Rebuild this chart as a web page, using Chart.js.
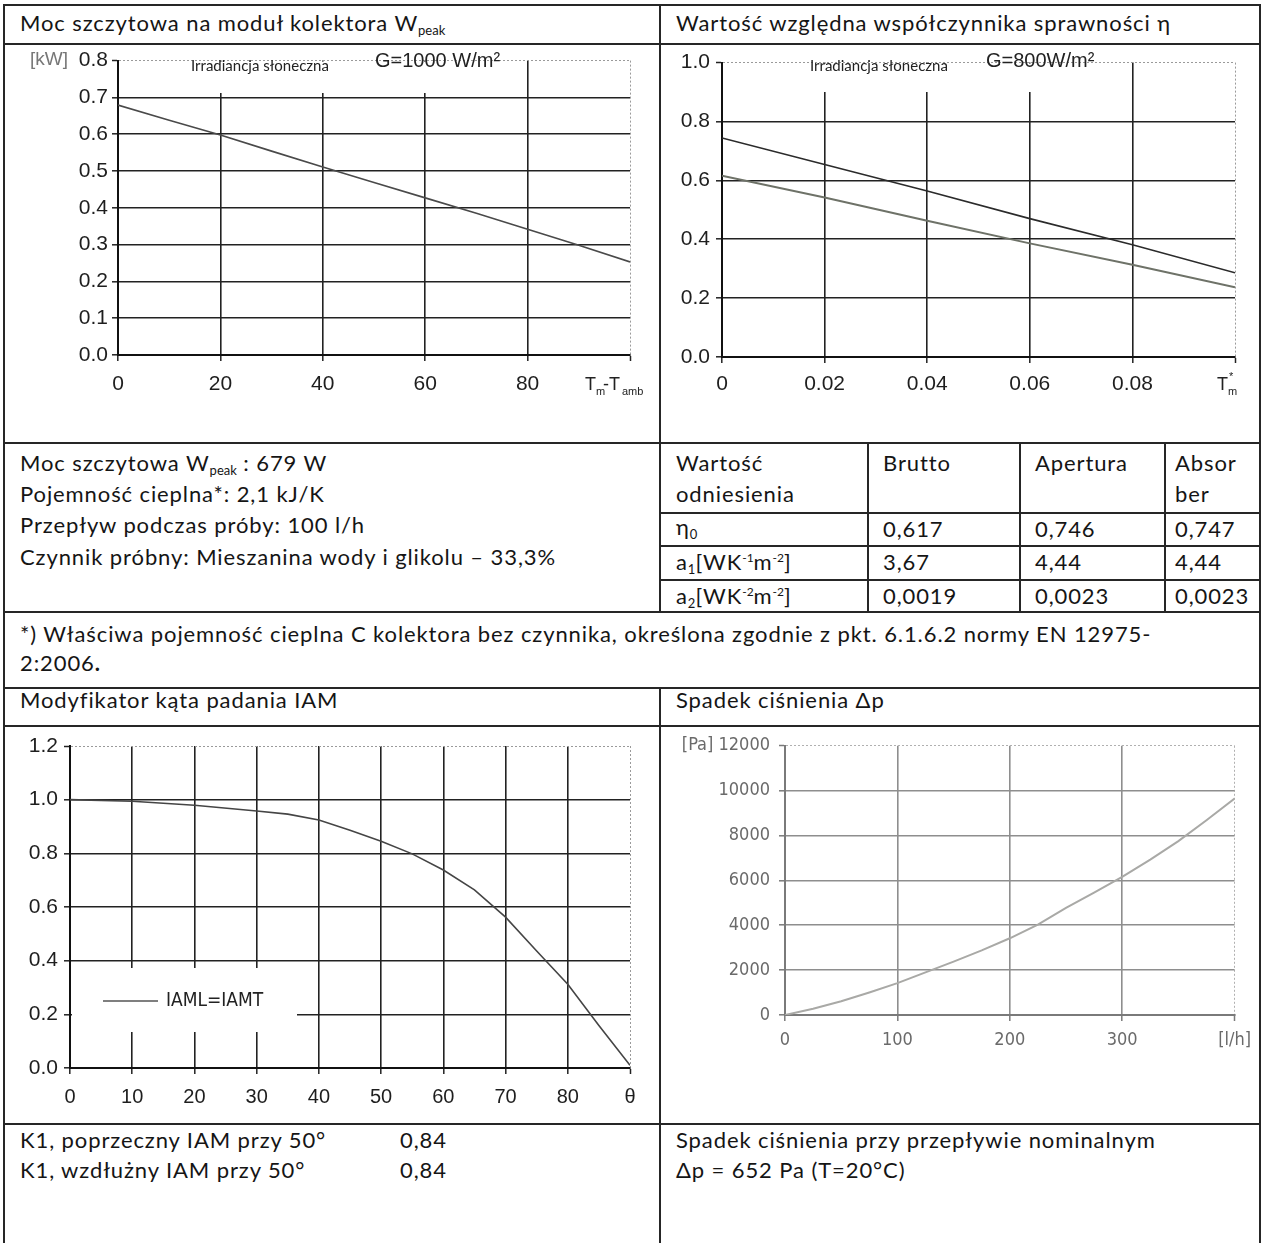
<!DOCTYPE html>
<html>
<head>
<meta charset="utf-8">
<script src="https://cdn.jsdelivr.net/npm/chart.js@4.4.0/dist/chart.umd.min.js"></script>
<style>
body { margin: 0; background: #fff; width: 1263px; height: 1243px; overflow: hidden; position: relative;
       font-family: Lato, "Open Sans", sans-serif; color: #151515; }
.l { position: absolute; background: #262626; }
.t { position: absolute; font-size: 22px; letter-spacing: 0.9px; white-space: nowrap; line-height: 22px; }
.t sub { font-size: 13px; vertical-align: -4px; line-height: 0; letter-spacing: 0; }
.t sup { font-size: 12px; vertical-align: 8px; line-height: 0; letter-spacing: 0; }
canvas { position: absolute; }
</style>
</head>
<body>

<!-- ramki tabeli -->
<div class="l" style="left:3px;top:4px;width:2px;height:1239px"></div>
<div class="l" style="left:1259px;top:4px;width:2px;height:1239px"></div>
<div class="l" style="left:3px;top:4px;width:1258px;height:2px"></div>
<div class="l" style="left:3px;top:43px;width:1258px;height:2px"></div>
<div class="l" style="left:3px;top:442px;width:1258px;height:2px"></div>
<div class="l" style="left:3px;top:611px;width:1258px;height:2px"></div>
<div class="l" style="left:3px;top:687px;width:1258px;height:2px"></div>
<div class="l" style="left:3px;top:725px;width:1258px;height:2px"></div>
<div class="l" style="left:3px;top:1123px;width:1258px;height:2px"></div>
<div class="l" style="left:659px;top:4px;width:2px;height:608px"></div>
<div class="l" style="left:659px;top:688px;width:2px;height:555px"></div>
<div class="l" style="left:661px;top:512px;width:600px;height:2px"></div>
<div class="l" style="left:661px;top:545px;width:600px;height:2px"></div>
<div class="l" style="left:661px;top:579px;width:600px;height:2px"></div>
<div class="l" style="left:867px;top:443px;width:2px;height:169px"></div>
<div class="l" style="left:1019px;top:443px;width:2px;height:169px"></div>
<div class="l" style="left:1164px;top:443px;width:2px;height:169px"></div>

<!-- teksty -->
<div class="t" style="left:20px;top:12px">Moc szczytowa na moduł kolektora W<sub>peak</sub></div>
<div class="t" style="left:676px;top:12px">Wartość względna współczynnika sprawności η</div>

<div class="t" style="left:20px;top:452px">Moc szczytowa W<sub>peak</sub> : 679 W</div>
<div class="t" style="left:20px;top:483px">Pojemność cieplna*: 2,1 kJ/K</div>
<div class="t" style="left:20px;top:514px">Przepływ podczas próby: 100 l/h</div>
<div class="t" style="left:20px;top:546px">Czynnik próbny: Mieszanina wody i glikolu – 33,3%</div>

<div id="tbl"></div>

<div class="t" style="left:20px;top:623px">*) Właściwa pojemność cieplna C kolektora bez czynnika, określona zgodnie z pkt. 6.1.6.2 normy EN 12975-</div>
<div class="t" style="left:20px;top:652px">2:2006<b>.</b></div>

<div class="t" style="left:20px;top:689px">Modyfikator kąta padania IAM</div>
<div class="t" style="left:676px;top:689px">Spadek ciśnienia Δp</div>

<div class="t" style="left:20px;top:1129px">K1, poprzeczny IAM przy 50°</div>
<div class="t" style="left:400px;top:1129px">0,84</div>
<div class="t" style="left:20px;top:1159px">K1, wzdłużny IAM przy 50°</div>
<div class="t" style="left:400px;top:1159px">0,84</div>
<div class="t" style="left:676px;top:1129px">Spadek ciśnienia przy przepływie nominalnym</div>
<div class="t" style="left:676px;top:1159px">Δp = 652 Pa (T=20°C)</div>

<canvas id="c1" width="657" height="396" style="left:3px;top:44px"></canvas>
<canvas id="c2" width="599" height="396" style="left:661px;top:44px"></canvas>
<canvas id="c3" width="657" height="398" style="left:3px;top:726px"></canvas>
<canvas id="c4" width="599" height="398" style="left:661px;top:726px"></canvas>

<script>
// Moc szczytowa W_peak [kW] w funkcji Tm-Tamb
const mocX = [0, 10, 20, 30, 40, 50, 60, 70, 80, 90, 100];
const mocY = [0.679, 0.638, 0.598, 0.554, 0.511, 0.469, 0.427, 0.385, 0.342, 0.298, 0.253];

// Sprawność η w funkcji Tm*
const etaX = [0, 0.02, 0.04, 0.06, 0.08, 0.1];
const etaApertura = [0.744, 0.654, 0.564, 0.470, 0.381, 0.286];
const etaBrutto = [0.616, 0.542, 0.463, 0.386, 0.313, 0.237];

// IAM w funkcji kąta θ
const iamX = [0, 10, 20, 30, 35, 40, 45, 50, 55, 60, 65, 70, 75, 80, 85, 90];
const iamY = [1.0, 0.994, 0.979, 0.958, 0.946, 0.924, 0.886, 0.845, 0.798, 0.738, 0.664, 0.562, 0.436, 0.312, 0.158, 0.01];

// Spadek ciśnienia [Pa] w funkcji przepływu [l/h]
const dpX = [0, 25, 50, 75, 100, 125, 150, 175, 200, 225, 250, 275, 300, 325, 350, 375, 400];
const dpY = [0, 280, 610, 1000, 1420, 1900, 2380, 2880, 3420, 4030, 4780, 5460, 6160, 6930, 7750, 8680, 9650];

// tabela współczynników
const tblCols = ["Brutto", "Apertura", "Absor"];
const tblEta0 = ["0,617", "0,746", "0,747"];
const tblA1 = ["3,67", "4,44", "4,44"];
const tblA2 = ["0,0019", "0,0023", "0,0023"];

const colX = [883, 1035, 1175];
let tbl = document.getElementById("tbl");
let html = `<div class="t" style="left:676px;top:452px">Wartość</div>
<div class="t" style="left:676px;top:483px">odniesienia</div>
<div class="t" style="left:1175px;top:483px">ber</div>
<div class="t" style="left:676px;top:516px">η<sub>0</sub></div>
<div class="t" style="left:676px;top:551px">a<sub>1</sub>[WK<sup>-1</sup>m<sup>-2</sup>]</div>
<div class="t" style="left:676px;top:585px">a<sub>2</sub>[WK<sup>-2</sup>m<sup>-2</sup>]</div>`;
for (let i = 0; i < 3; i++) {
    html += `<div class="t" style="left:${colX[i]}px;top:452px">${tblCols[i]}</div>`;
    html += `<div class="t" style="left:${colX[i]}px;top:518px">${tblEta0[i]}</div>`;
    html += `<div class="t" style="left:${colX[i]}px;top:551px">${tblA1[i]}</div>`;
    html += `<div class="t" style="left:${colX[i]}px;top:585px">${tblA2[i]}</div>`;
}
tbl.innerHTML = html;

const ARIAL = "'Liberation Sans', Arial, sans-serif";
const NARROW = "'Liberation Sans Narrow', 'DejaVu Sans Condensed', 'Liberation Sans', sans-serif";

function pts(xs, ys) {
    return xs.map((x, i) => ({ x: x, y: ys[i] }));
}

// oś z kropkowaną ramką na końcu zakresu
function axis(min, max, step, opts) {
    return {
        type: "linear", min: min, max: max,
        afterFit: opts.fit,
        ticks: {
            stepSize: step, autoSkip: false, maxRotation: 0,
            padding: opts.pad, color: opts.tickColor || "#1e1e1e",
            font: { family: opts.family || ARIAL, size: opts.size || 21 },
            callback: opts.label
        },
        grid: {
            color: c => (c.tick && Math.abs(c.tick.value - max) < 1e-9) ? (opts.edge || "#9a9a9a") : (opts.grid || "#222"),
            lineWidth: c => (c.tick && Math.abs(c.tick.value - max) < 1e-9) ? 1 : 1.6,
            tickLength: 6, tickColor: opts.axisColor || "#222", tickWidth: 1.5
        },
        border: {
            display: true, color: opts.axisColor || "#111", width: 2,
            dash: c => (c.tick && Math.abs(c.tick.value - max) < 1e-9) ? [2, 2] : []
        }
    };
}

function baseOpts(pad, xs, ys) {
    return {
        responsive: false, animation: false, devicePixelRatio: 1,
        layout: { padding: pad },
        elements: { point: { radius: 0 }, line: { tension: 0 } },
        plugins: { legend: { display: false }, tooltip: { enabled: false } },
        scales: { x: xs, y: ys }
    };
}

function whiteBox(ctx, x1, y1, x2, y2) {
    ctx.save();
    ctx.fillStyle = "#fff";
    ctx.fillRect(x1, y1, x2 - x1, y2 - y1);
    ctx.restore();
}

// 1. Moc szczytowa
new Chart(document.getElementById("c1"), {
    type: "line",
    data: { datasets: [{ data: pts(mocX, mocY), borderColor: "#4a4a4a", borderWidth: 1.6 }] },
    options: baseOpts({ top: 16, right: 30, left: 0, bottom: 0 },
        axis(0, 100, 20, { fit: s => { s.height = 85; }, pad: 11, label: v => v === 100 ? "" : v }),
        axis(0, 0.8, 0.1, { fit: s => { s.width = 115; }, pad: 4, label: v => v.toFixed(1) })),
    plugins: [{
        id: "ov1",
        beforeDatasetsDraw(chart) {
            let ctx = chart.ctx, a = chart.chartArea;
            whiteBox(ctx, a.left + 2, a.top + 1, 509, 49);
            ctx.save();
            ctx.textBaseline = "middle";
            ctx.fillStyle = "#777";
            ctx.font = "19px " + ARIAL;
            ctx.fillText("[kW]", 27, 16);
            ctx.fillStyle = "#222";
            ctx.font = "15px Lato, sans-serif";
            ctx.fillText("Irradiancja słoneczna", 188, 22);
            ctx.font = "20px " + ARIAL;
            ctx.fillText("G=1000 W/m²", 372, 17);
            ctx.font = "18px " + ARIAL;
            ctx.fillText("T", 582, 341);
            ctx.fillText("-T", 600, 341);
            ctx.font = "11px " + ARIAL;
            ctx.fillText("m", 593, 348);
            ctx.fillText("amb", 619, 348);
            ctx.restore();
        }
    }]
});

// 2. Sprawność η
new Chart(document.getElementById("c2"), {
    type: "line",
    data: {
        datasets: [
            { data: pts(etaX, etaApertura), borderColor: "#2b2b2b", borderWidth: 1.6 },
            { data: pts(etaX, etaBrutto), borderColor: "#6e7268", borderWidth: 2 }
        ]
    },
    options: baseOpts({ top: 16, right: 25, left: 0, bottom: 0 },
        axis(0, 0.1, 0.02, { fit: s => { s.height = 83; }, pad: 9,
            label: v => Math.abs(v - 0.1) < 1e-9 ? "" : (v === 0 ? "0" : v.toFixed(2)) }),
        axis(0, 1, 0.2, { fit: s => { s.width = 61; }, pad: 6, label: v => v.toFixed(1) })),
    plugins: [{
        id: "ov2",
        beforeDatasetsDraw(chart) {
            let ctx = chart.ctx, a = chart.chartArea;
            whiteBox(ctx, a.left + 2, a.top + 1, 439, 48);
            ctx.save();
            ctx.fillStyle = "#222";
            ctx.textBaseline = "middle";
            ctx.font = "15px Lato, sans-serif";
            ctx.fillText("Irradiancja słoneczna", 149, 22);
            ctx.font = "20px " + ARIAL;
            ctx.fillText("G=800W/m²", 325, 17);
            ctx.font = "18px " + ARIAL;
            ctx.fillText("T", 556, 341);
            ctx.font = "11px " + ARIAL;
            ctx.fillText("m", 567, 348);
            ctx.fillText("*", 568, 333);
            ctx.restore();
        }
    }]
});

// 3. IAM
new Chart(document.getElementById("c3"), {
    type: "line",
    data: { datasets: [{ data: pts(iamX, iamY), borderColor: "#454545", borderWidth: 1.6 }] },
    options: baseOpts({ top: 20, right: 30, left: 0, bottom: 0 },
        axis(0, 90, 10, { fit: s => { s.height = 56; }, pad: 11, size: 20, label: v => v === 90 ? "θ" : v }),
        axis(0, 1.2, 0.2, { fit: s => { s.width = 67; }, pad: 6, label: v => v.toFixed(1) })),
    plugins: [{
        id: "ov3",
        beforeDatasetsDraw(chart) {
            let ctx = chart.ctx;
            whiteBox(ctx, 69, 242, 294, 306);
            ctx.save();
            ctx.strokeStyle = "#555";
            ctx.lineWidth = 1.5;
            ctx.beginPath();
            ctx.moveTo(100, 275);
            ctx.lineTo(155, 275);
            ctx.stroke();
            ctx.fillStyle = "#222";
            ctx.textBaseline = "middle";
            ctx.font = "19px " + NARROW;
            ctx.fillText("IAML=IAMT", 163, 275);
            ctx.restore();
        }
    }]
});

// 4. Spadek ciśnienia
new Chart(document.getElementById("c4"), {
    type: "line",
    data: { datasets: [{ data: pts(dpX, dpY), borderColor: "#a9a9a6", borderWidth: 2 }] },
    options: baseOpts({ top: 15, right: 25, left: 0, bottom: 0 },
        axis(0, 400, 100, { fit: s => { s.height = 109; }, pad: 9, size: 18, family: NARROW,
            tickColor: "#6a6a6a", grid: "#8e8e8e", edge: "#b0b0b0", axisColor: "#7a7a7a",
            label: v => v === 400 ? "[l/h]" : v }),
        axis(0, 12000, 2000, { fit: s => { s.width = 124; }, pad: 9, size: 18, family: NARROW,
            tickColor: "#6a6a6a", grid: "#8e8e8e", edge: "#b0b0b0", axisColor: "#7a7a7a",
            label: v => v === 12000 ? "[Pa] 12000" : v }))
});
</script>
</body>
</html>
